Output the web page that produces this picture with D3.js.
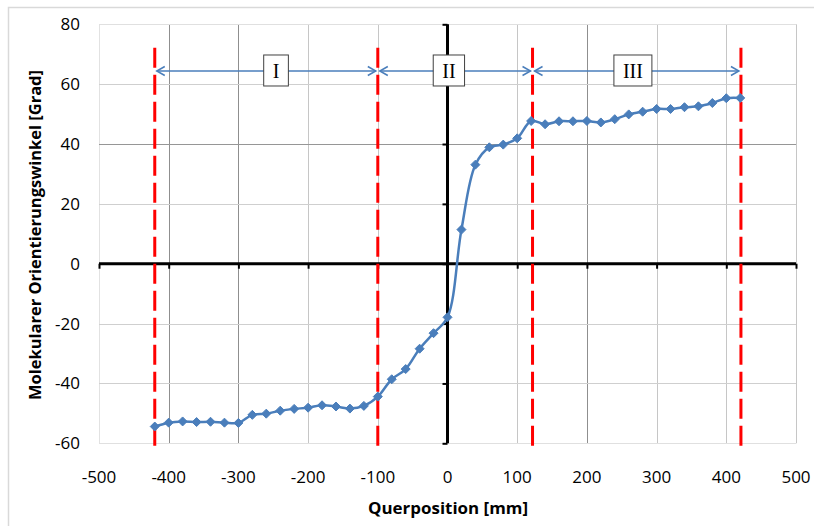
<!DOCTYPE html>
<html>
<head>
<meta charset="utf-8">
<script src="https://cdn.jsdelivr.net/npm/d3@7"></script>
<style>
  body { margin: 0; background: #fff; }
  svg { display: block; }
  .tick-label { font-family: "Open Sans", sans-serif; font-size: 17px; fill: #000; }
  .axis-title { font-family: "Open Sans", sans-serif; font-size: 16px; font-weight: bold; fill: #000; }
  .zone-label { font-family: "Liberation Serif", serif; font-size: 20px; fill: #000; }
</style>
</head>
<body>
<div id="chart"></div>
<script>
// measurement positions (mm) and orientation angles (deg)
const positions = [
  -420, -400, -380, -360, -340, -320, -300, -280, -260, -240, -220,
  -200, -180, -160, -140, -120, -100, -80, -60, -40, -20,
  0, 20, 40, 60, 80, 100, 120, 140, 160, 180, 200,
  220, 240, 260, 280, 300, 320, 340, 360, 380, 400, 420
];
const angles = [
  -54.4, -53.1, -52.7, -52.9, -52.8, -53.1, -53.2, -50.5, -50.1, -49.1, -48.5,
  -48.1, -47.3, -47.7, -48.4, -47.5, -44.4, -38.6, -35.2, -28.4, -23.2,
  -17.9, 11.4, 33.1, 38.9, 39.8, 41.9, 47.7, 46.6, 47.6, 47.6, 47.7,
  47.2, 48.3, 49.9, 50.8, 51.7, 51.7, 52.3, 52.6, 53.7, 55.3, 55.4
];

// zone boundaries (red dashed lines) and zone annotations
const boundaries = [-420, -100, 122, 421];
const zoneLabels = ["I", "II", "III"];
const zoneLabelPos = [-246, 2, 266];
const arrowLevel = 64.4;
const boundaryRange = [72.2, -63];

const xTickValues = [-500, -400, -300, -200, -100, 0, 100, 200, 300, 400, 500];
const yTickValues = [-60, -40, -20, 0, 20, 40, 60, 80];

const width = 814;
const height = 526;
const plot = { left: 99, right: 796, top: 24.3, bottom: 443.3 };
const darkGridX = [-400, -300, 200];
const darkGridY = [40];
const lineColor = "#4a7ebb";

const data = positions.map((p, i) => ({ x: p, y: angles[i] }));

const svg = d3.select("#chart")
  .append("svg")
  .attr("width", width)
  .attr("height", height);

// chart frame
svg.append("rect")
  .attr("x", 8.5)
  .attr("y", 7.5)
  .attr("width", 820)
  .attr("height", 530)
  .attr("fill", "#fff")
  .attr("stroke", "#d9d9d9")
  .attr("stroke-width", 1.5);

const x = d3.scaleLinear().domain([-500, 500]).range([plot.left, plot.right]);
const y = d3.scaleLinear().domain([-60, 80]).range([plot.bottom, plot.top]);

// gridlines
svg.append("g")
  .selectAll("line")
  .data(xTickValues.filter(d => d !== 0))
  .join("line")
  .attr("x1", d => Math.round(x(d)) + 0.5)
  .attr("x2", d => Math.round(x(d)) + 0.5)
  .attr("y1", y(80))
  .attr("y2", y(-60))
  .attr("stroke", d => darkGridX.includes(d) ? "#8f8f8f" : (d === -500 ? "#e2e2e2" : "#c6c6c6"))
  .attr("stroke-width", 1);

svg.append("g")
  .selectAll("line")
  .data(yTickValues.filter(d => d !== 0))
  .join("line")
  .attr("x1", x(-500))
  .attr("x2", x(500))
  .attr("y1", d => Math.round(y(d)) + 0.5)
  .attr("y2", d => Math.round(y(d)) + 0.5)
  .attr("stroke", d => darkGridY.includes(d) ? "#969696" : (d === 80 || d === -60 ? "#e0e0e0" : "#cfcfcf"))
  .attr("stroke-width", 1);

// axes through the origin
const xAxis = svg.append("g")
  .attr("transform", `translate(0,${y(0)})`)
  .call(d3.axisBottom(x).tickValues(xTickValues).tickSize(5).tickFormat(""));
xAxis.select(".domain").attr("stroke", "#000").attr("stroke-width", 3)
  .attr("d", `M${x(-500)},0H${x(500)}`);
xAxis.selectAll(".tick line").attr("stroke", "#000").attr("stroke-width", 2);

const yAxis = svg.append("g")
  .attr("transform", `translate(${x(0)},0)`)
  .call(d3.axisLeft(y).tickValues(yTickValues).tickSize(5).tickFormat(""));
yAxis.select(".domain").attr("stroke", "#000").attr("stroke-width", 3)
  .attr("d", `M0,${y(80)}V${y(-60)}`);
yAxis.selectAll(".tick line").attr("stroke", "#000").attr("stroke-width", 2);

// tick labels along the plot edges
svg.append("g")
  .selectAll("text")
  .data(xTickValues)
  .join("text")
  .attr("class", "tick-label")
  .attr("x", d => x(d))
  .attr("y", 483)
  .attr("text-anchor", "middle")
  .text(d => d);

svg.append("g")
  .selectAll("text")
  .data(yTickValues)
  .join("text")
  .attr("class", "tick-label")
  .attr("x", 80)
  .attr("y", d => y(d) + 6)
  .attr("text-anchor", "end")
  .text(d => d);

// zone boundaries
svg.append("g")
  .selectAll("line")
  .data(boundaries)
  .join("line")
  .attr("x1", d => x(d))
  .attr("x2", d => x(d))
  .attr("y1", y(boundaryRange[0]))
  .attr("y2", y(boundaryRange[1]))
  .attr("stroke", "#ff0000")
  .attr("stroke-width", 3)
  .attr("stroke-dasharray", "20,7");

// double-headed arrows between boundaries
const defs = svg.append("defs");
defs.append("marker")
  .attr("id", "chevron")
  .attr("viewBox", "-10 -6 12 12")
  .attr("refX", 0)
  .attr("refY", 0)
  .attr("markerWidth", 12)
  .attr("markerHeight", 12)
  .attr("markerUnits", "userSpaceOnUse")
  .attr("orient", "auto-start-reverse")
  .append("path")
  .attr("d", "M-8,-4.5L0,0L-8,4.5")
  .attr("fill", "none")
  .attr("stroke", lineColor)
  .attr("stroke-width", 1.5);

const zones = zoneLabels.map((label, i) => ({
  label,
  from: boundaries[i],
  to: boundaries[i + 1],
  at: zoneLabelPos[i]
}));

svg.append("g")
  .selectAll("line")
  .data(zones)
  .join("line")
  .attr("x1", d => x(d.from) + 2)
  .attr("x2", d => x(d.to) - 2)
  .attr("y1", y(arrowLevel))
  .attr("y2", y(arrowLevel))
  .attr("stroke", lineColor)
  .attr("stroke-width", 1.5)
  .attr("marker-start", "url(#chevron)")
  .attr("marker-end", "url(#chevron)");

const zoneGroups = svg.append("g")
  .selectAll("g")
  .data(zones)
  .join("g")
  .attr("transform", d => `translate(${x(d.at)},${y(arrowLevel)})`);

zoneGroups.append("text")
  .attr("class", "zone-label")
  .attr("text-anchor", "middle")
  .attr("y", 7)
  .text(d => d.label);

zoneGroups.each(function () {
  const g = d3.select(this);
  const w = g.select("text").node().getComputedTextLength() + 18;
  g.insert("rect", "text")
    .attr("x", -w / 2)
    .attr("y", -16)
    .attr("width", w)
    .attr("height", 31)
    .attr("fill", "#fff")
    .attr("stroke", "#404040")
    .attr("stroke-width", 1);
});

// orientation profile
svg.append("path")
  .datum(data)
  .attr("fill", "none")
  .attr("stroke", lineColor)
  .attr("stroke-width", 2.5)
  .attr("d", d3.line()
    .x(d => x(d.x))
    .y(d => y(d.y))
    .curve(d3.curveCatmullRom.alpha(0.5)));

svg.append("g")
  .selectAll("path")
  .data(data)
  .join("path")
  .attr("transform", d => `translate(${x(d.x)},${y(d.y)})`)
  .attr("d", "M0,-4.5L4.5,0L0,4.5L-4.5,0Z")
  .attr("fill", lineColor)
  .attr("stroke", lineColor)
  .attr("stroke-width", 1);

// axis titles
svg.append("text")
  .attr("class", "axis-title")
  .attr("x", 448)
  .attr("y", 514)
  .attr("text-anchor", "middle")
  .attr("textLength", 160)
  .attr("lengthAdjust", "spacingAndGlyphs")
  .text("Querposition [mm]");

svg.append("text")
  .attr("class", "axis-title")
  .attr("transform", "translate(41,235) rotate(-90)")
  .attr("text-anchor", "middle")
  .attr("textLength", 330)
  .attr("lengthAdjust", "spacingAndGlyphs")
  .text("Molekularer Orientierungswinkel [Grad]");
</script>
</body>
</html>
